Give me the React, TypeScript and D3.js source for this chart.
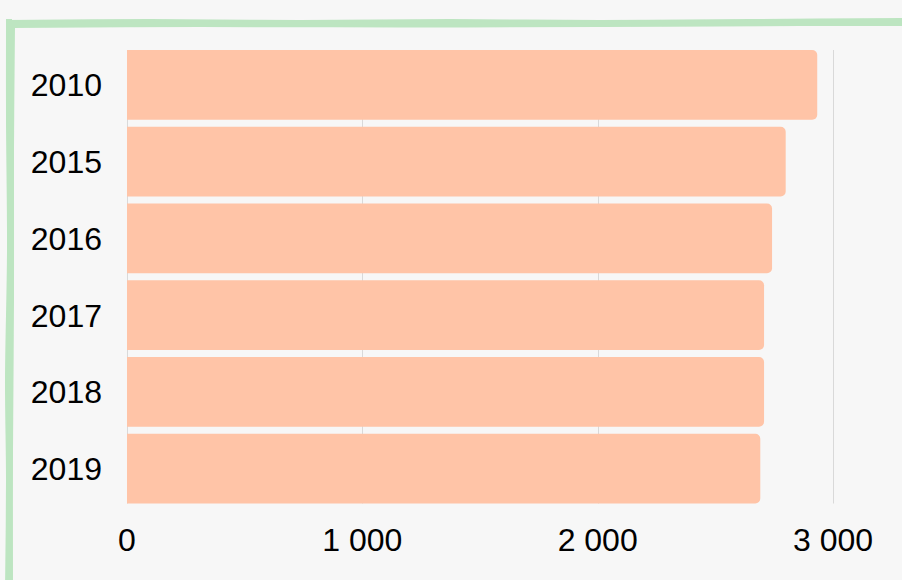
import * as d3 from 'd3'

// data
const years = ['2010', '2015', '2016', '2017', '2018', '2019']
const values = [2933, 2799, 2741, 2707, 2707, 2691]
const xTicks = [0, 1000, 2000, 3000]

const W = 902
const H = 580
const margin = { top: 50, right: 69, bottom: 76.5, left: 127 }

const fmt = (v: number) => d3.format(',')(v).replace(/,/g, ' ')

// right-side rounded bar (left edge square)
function barPath(x0: number, y: number, w: number, h: number, r: number) {
  const rr = Math.min(r, w / 2, h / 2)
  const p = d3.path()
  p.moveTo(x0, y)
  p.lineTo(x0 + w - rr, y)
  p.arcTo(x0 + w, y, x0 + w, y + rr, rr)
  p.lineTo(x0 + w, y + h - rr)
  p.arcTo(x0 + w, y + h, x0 + w - rr, y + h, rr)
  p.lineTo(x0, y + h)
  p.closePath()
  return p.toString()
}

export default function App() {
  const x = d3
    .scaleLinear()
    .domain([0, 3000])
    .range([margin.left, W - margin.right])

  const y = d3
    .scaleBand<string>()
    .domain(years)
    .range([margin.top, H - margin.bottom])
    .paddingInner(0.09)
    .paddingOuter(0)

  const line = d3.line().curve(d3.curveCatmullRom)

  // hand drawn frame (decoration), two passes like a sketch
  const frame: [number, number][][] = [
    [[6, 23], [150, 22], [300, 23], [450, 22], [600, 23], [750, 22], [910, 21]],
    [[12, 25], [200, 24], [400, 24.5], [600, 24], [800, 23], [910, 23]],
    [[9, 19], [9, 120], [10, 250], [8, 380], [9, 480], [8, 590]],
    [[12, 26], [11, 150], [11, 300], [10, 450], [10, 590]],
  ]

  return (
    <div style={{ position: 'fixed', left: 0, top: 0, width: W, height: H, background: '#f7f7f7' }}>
      <svg width={W} height={H} style={{ display: 'block', fontFamily: '"Liberation Sans", Arial, sans-serif' }}>
        <rect width={W} height={H} fill="#f7f7f7" />

        {/* frame */}
        {frame.map((pts, i) => (
          <path
            key={'f' + i}
            d={line(pts) ?? ''}
            fill="none"
            stroke="#bde5c1"
            strokeWidth={6}
            strokeLinecap="butt"
          />
        ))}

        {/* grid */}
        {xTicks.map((t) => (
          <line
            key={'g' + t}
            x1={Math.round(x(t)) + 0.5}
            x2={Math.round(x(t)) + 0.5}
            y1={margin.top}
            y2={H - margin.bottom}
            stroke="#d9d9d9"
            strokeWidth={1}
          />
        ))}

        {/* bars */}
        {years.map((yr, i) => (
          <path
            key={yr}
            d={barPath(x(0), y(yr) ?? 0, x(values[i]) - x(0), y.bandwidth(), 5)}
            fill="#ffc4a7"
          />
        ))}

        {/* y labels */}
        {years.map((yr) => (
          <text
            key={'l' + yr}
            x={margin.left - 25}
            y={(y(yr) ?? 0) + y.bandwidth() / 2}
            dy="0.36em"
            textAnchor="end"
            fontSize={32}
            fill="#000"
          >
            {yr}
          </text>
        ))}

        {/* x labels */}
        {xTicks.map((t) => (
          <text key={'t' + t} x={x(t)} y={550.5} textAnchor="middle" fontSize={32} fill="#000">
            {fmt(t)}
          </text>
        ))}
      </svg>
    </div>
  )
}
